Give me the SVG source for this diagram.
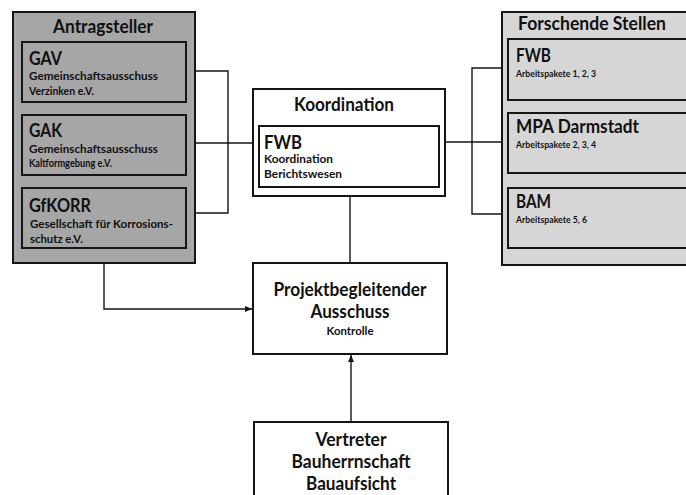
<svg xmlns="http://www.w3.org/2000/svg" width="686" height="495" viewBox="0 0 686 495">
<defs>
<style>
text{font-family:Lato,"Open Sans","Liberation Sans",sans-serif;font-weight:bold;fill:#111;}
.box{stroke:#151515;stroke-width:2;}
.dark{fill:#a6a6a6;}
.light{fill:#d6d6d6;}
.white{fill:#ffffff;}
.h{font-size:18.5px;}
.s{font-size:11.5px;}
.xs{font-size:9.5px;}
.c{text-anchor:middle;}
.con{fill:none;stroke:#151515;stroke-width:1.4;}
</style>
<marker id="arr" markerWidth="8" markerHeight="8" refX="7" refY="4" orient="auto" markerUnits="userSpaceOnUse">
<path d="M0,1 L7,4 L0,7 Z" fill="#151515"/>
</marker>
</defs>
<rect width="686" height="495" fill="#ffffff"/>

<g id="connectors">
<polyline class="con" points="195,71 228,71 228,213 195,213"/>
<line class="con" x1="195" y1="143" x2="253" y2="143"/>
<line class="con" x1="445" y1="142" x2="502" y2="142"/>
<polyline class="con" points="502,68 472,68 472,214 502,214"/>
<line class="con" x1="350" y1="196" x2="350" y2="263"/>
<polyline class="con" points="104,263 104,309 252,309" marker-end="url(#arr)"/>
<line class="con" x1="351" y1="422" x2="351" y2="355" marker-end="url(#arr)"/>
</g>

<g id="antragsteller">
<rect class="box dark" x="13" y="12" width="182" height="251"/>
<text class="h c" x="103" y="33" textLength="100" lengthAdjust="spacingAndGlyphs">Antragsteller</text>
</g>
<g id="gav">
<rect class="box dark" x="22" y="42" width="164" height="60"/>
<text class="h" x="29" y="65" textLength="33" lengthAdjust="spacingAndGlyphs">GAV</text>
<text class="s" x="29" y="80" textLength="129" lengthAdjust="spacingAndGlyphs">Gemeinschaftsausschuss</text>
<text class="s" x="29" y="95" textLength="65" lengthAdjust="spacingAndGlyphs">Verzinken e.V.</text>
</g>
<g id="gak">
<rect class="box dark" x="22" y="115" width="164" height="60"/>
<text class="h" x="29" y="137" textLength="33" lengthAdjust="spacingAndGlyphs">GAK</text>
<text class="s" x="29" y="153" textLength="129" lengthAdjust="spacingAndGlyphs">Gemeinschaftsausschuss</text>
<text class="s" x="29" y="167" textLength="83" lengthAdjust="spacingAndGlyphs">Kaltformgebung e.V.</text>
</g>
<g id="gfkorr">
<rect class="box dark" x="22" y="188" width="164" height="60"/>
<text class="h" x="29" y="212" textLength="62" lengthAdjust="spacingAndGlyphs">GfKORR</text>
<text class="s" x="30" y="228" textLength="143" lengthAdjust="spacingAndGlyphs">Gesellschaft für Korrosions-</text>
<text class="s" x="30" y="243" textLength="53" lengthAdjust="spacingAndGlyphs">schutz e.V.</text>
</g>

<g id="koordination">
<rect class="box white" x="253" y="89" width="192" height="107"/>
<text class="h c" x="344" y="111" textLength="100" lengthAdjust="spacingAndGlyphs">Koordination</text>
</g>
<g id="fwb-koordination">
<rect class="box white" x="259" y="126" width="180" height="61"/>
<text class="h" x="264" y="149" textLength="38" lengthAdjust="spacingAndGlyphs">FWB</text>
<text class="s" x="264" y="163" textLength="69" lengthAdjust="spacingAndGlyphs">Koordination</text>
<text class="s" x="264" y="178" textLength="78" lengthAdjust="spacingAndGlyphs">Berichtswesen</text>
</g>

<g id="forschende-stellen">
<rect class="box light" x="502" y="12" width="200" height="253"/>
<text class="h" x="518" y="30" textLength="148" lengthAdjust="spacingAndGlyphs">Forschende Stellen</text>
</g>
<g id="fwb">
<rect class="box light" x="508" y="39" width="190" height="61"/>
<text class="h" x="516" y="62" textLength="35" lengthAdjust="spacingAndGlyphs">FWB</text>
<text class="xs" x="516" y="77" textLength="80" lengthAdjust="spacingAndGlyphs">Arbeitspakete 1, 2, 3</text>
</g>
<g id="mpa">
<rect class="box light" x="508" y="113" width="190" height="60"/>
<text class="h" x="516" y="133" textLength="123" lengthAdjust="spacingAndGlyphs">MPA Darmstadt</text>
<text class="xs" x="516" y="148" textLength="80" lengthAdjust="spacingAndGlyphs">Arbeitspakete 2, 3, 4</text>
</g>
<g id="bam">
<rect class="box light" x="508" y="188" width="190" height="60"/>
<text class="h" x="516" y="208" textLength="35" lengthAdjust="spacingAndGlyphs">BAM</text>
<text class="xs" x="516" y="223" textLength="71" lengthAdjust="spacingAndGlyphs">Arbeitspakete 5, 6</text>
</g>

<g id="projekt">
<rect class="box white" x="253" y="263" width="194" height="91"/>
<text class="h c" x="350" y="296" textLength="153" lengthAdjust="spacingAndGlyphs">Projektbegleitender</text>
<text class="h c" x="350" y="318" textLength="79" lengthAdjust="spacingAndGlyphs">Ausschuss</text>
<text class="s c" x="350" y="335" textLength="47" lengthAdjust="spacingAndGlyphs">Kontrolle</text>
</g>

<g id="vertreter">
<rect class="box white" x="254" y="422" width="194" height="80"/>
<text class="h c" x="351" y="446" textLength="71" lengthAdjust="spacingAndGlyphs">Vertreter</text>
<text class="h c" x="351" y="468" textLength="119" lengthAdjust="spacingAndGlyphs">Bauherrnschaft</text>
<text class="h c" x="351" y="490" textLength="90" lengthAdjust="spacingAndGlyphs">Bauaufsicht</text>
</g>
</svg>
